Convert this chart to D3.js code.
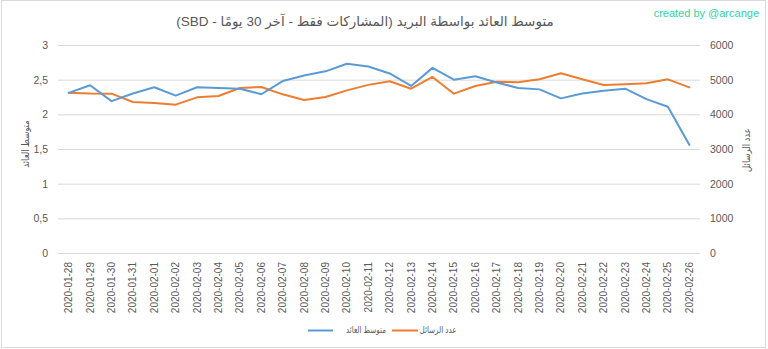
<!DOCTYPE html>
<html>
<head>
<meta charset="utf-8">
<script src="https://cdn.jsdelivr.net/npm/d3@7"></script>
<style>
  html, body { margin: 0; padding: 0; background: #fff; }
  svg { display: block; font-family: "Liberation Sans", "DejaVu Sans", sans-serif; }
</style>
</head>
<body>
<svg id="chart" width="768" height="349"></svg>
<script>
// Daily dates (category axis)
const dates = [
  "2020-01-28","2020-01-29","2020-01-30","2020-01-31","2020-02-01","2020-02-02",
  "2020-02-03","2020-02-04","2020-02-05","2020-02-06","2020-02-07","2020-02-08",
  "2020-02-09","2020-02-10","2020-02-11","2020-02-12","2020-02-13","2020-02-14",
  "2020-02-15","2020-02-16","2020-02-17","2020-02-18","2020-02-19","2020-02-20",
  "2020-02-21","2020-02-22","2020-02-23","2020-02-24","2020-02-25","2020-02-26"
];
// Average payout per post (SBD) — left axis
const avgPayout = [
  2.31, 2.42, 2.19, 2.30, 2.39, 2.27, 2.39, 2.38, 2.37, 2.29,
  2.48, 2.56, 2.62, 2.73, 2.69, 2.59, 2.41, 2.67, 2.50, 2.55,
  2.46, 2.38, 2.36, 2.23, 2.30, 2.34, 2.37, 2.22, 2.11, 1.56
];
// Number of posts — right axis
const postCount = [
  4624, 4600, 4596, 4356, 4327, 4279, 4490, 4529, 4760, 4789,
  4577, 4413, 4500, 4692, 4850, 4953, 4740, 5077, 4596, 4817,
  4942, 4923, 5010, 5183, 5010, 4846, 4865, 4894, 5010, 4779
];
const leftTicks = [0, 0.5, 1, 1.5, 2, 2.5, 3];
const rightTicks = [0, 1000, 2000, 3000, 4000, 5000, 6000];

const titleText = "متوسط العائد بواسطة البريد (المشاركات فقط - آخر 30 يومًا - SBD)";
const leftTitle = "متوسط العائد";
const rightTitle = "عدد الرسائل";
const creditText = "created by @arcange";

const blue = "#5b9bd5", orange = "#ed7d31", grid = "#d9d9d9", label = "#595959";

const svg = d3.select("#chart");

// chart area border
svg.append("rect")
  .attr("x", 1.5).attr("y", 0.5).attr("width", 764).attr("height", 347)
  .attr("fill", "#fff").attr("stroke", grid);

const plot = { left: 58, right: 700, top: 45, bottom: 253 };

const x = d3.scaleBand().domain(dates).range([plot.left, plot.right]);
const cx = d => x(d) + x.bandwidth() / 2;
const yL = d3.scaleLinear().domain([0, 3]).range([plot.bottom, plot.top]);
const yR = d3.scaleLinear().domain([0, 6000]).range([plot.bottom, plot.top]);

// horizontal gridlines
svg.append("g").selectAll("line").data(leftTicks).join("line")
  .attr("x1", plot.left).attr("x2", plot.right)
  .attr("y1", d => yL(d) + 0.5).attr("y2", d => yL(d) + 0.5)
  .attr("stroke", grid).attr("stroke-width", 1);

const commaFmt = d => String(d).replace(".", ",");

// left axis labels
const axL = svg.append("g").attr("transform", `translate(${plot.left - 10},0)`)
  .call(d3.axisLeft(yL).tickValues(leftTicks).tickFormat(commaFmt).tickSize(0).tickPadding(0));
axL.select(".domain").remove();
axL.selectAll("text").attr("fill", label).attr("font-size", 10.5)
  .attr("font-family", "Liberation Sans, sans-serif");

// right axis labels
const axR = svg.append("g").attr("transform", `translate(${plot.right + 10},0)`)
  .call(d3.axisRight(yR).tickValues(rightTicks).tickFormat(d3.format("d")).tickSize(0).tickPadding(0));
axR.select(".domain").remove();
axR.selectAll("text").attr("fill", label).attr("font-size", 10.5)
  .attr("font-family", "Liberation Sans, sans-serif");

// category labels, rotated
const axX = svg.append("g").attr("transform", `translate(0,${plot.bottom})`)
  .call(d3.axisBottom(x).tickSize(0).tickPadding(0));
axX.select(".domain").remove();
axX.selectAll("text")
  .attr("fill", label).attr("font-size", 10)
  .attr("font-family", "Liberation Sans, sans-serif")
  .attr("text-anchor", "end")
  .attr("dy", "0.35em")
  .attr("transform", "translate(0,9) rotate(-90)")
  .attr("y", 0).attr("x", 0);

// series lines
const lineL = d3.line().x((d, i) => cx(dates[i])).y(d => yL(d));
const lineR = d3.line().x((d, i) => cx(dates[i])).y(d => yR(d));

svg.append("path").datum(postCount).attr("d", lineR)
  .attr("fill", "none").attr("stroke", orange).attr("stroke-width", 2)
  .attr("stroke-linejoin", "round").attr("stroke-linecap", "round");
svg.append("path").datum(avgPayout).attr("d", lineL)
  .attr("fill", "none").attr("stroke", blue).attr("stroke-width", 2)
  .attr("stroke-linejoin", "round").attr("stroke-linecap", "round");

// title
svg.append("text")
  .attr("x", 365).attr("y", 26)
  .attr("text-anchor", "middle").attr("direction", "rtl")
  .attr("font-size", 13.5).attr("fill", label)
  .text(titleText);

// credit
svg.append("text")
  .attr("x", 759).attr("y", 17)
  .attr("text-anchor", "end")
  .attr("font-size", 11).attr("fill", "#2fd4a3")
  .text(creditText);

// Arabic label, horizontally condensed, centred at (cxp, cyp)
function arabicLabel(cxp, cyp, rot, sx, size, txt) {
  svg.append("g")
    .attr("transform", `translate(${cxp},${cyp}) rotate(${rot}) scale(${sx},1)`)
    .append("text")
    .attr("text-anchor", "middle").attr("direction", "rtl")
    .attr("dy", "0.35em")
    .attr("font-size", size).attr("fill", label)
    .text(txt);
}

// axis titles
arabicLabel(25, 144, -90, 0.85, 10, leftTitle);
arabicLabel(746, 150, -90, 0.85, 10, rightTitle);

// legend
const legendItems = [
  { name: leftTitle, color: blue, x1: 308, x2: 333, tc: 366 },
  { name: rightTitle, color: orange, x1: 392, x2: 418, tc: 438 }
];
legendItems.forEach(it => {
  svg.append("line").attr("x1", it.x1).attr("x2", it.x2)
    .attr("y1", 330.5).attr("y2", 330.5)
    .attr("stroke", it.color).attr("stroke-width", 2);
  arabicLabel(it.tc, 330, 0, 0.8, 9, it.name);
});
</script>
</body>
</html>
